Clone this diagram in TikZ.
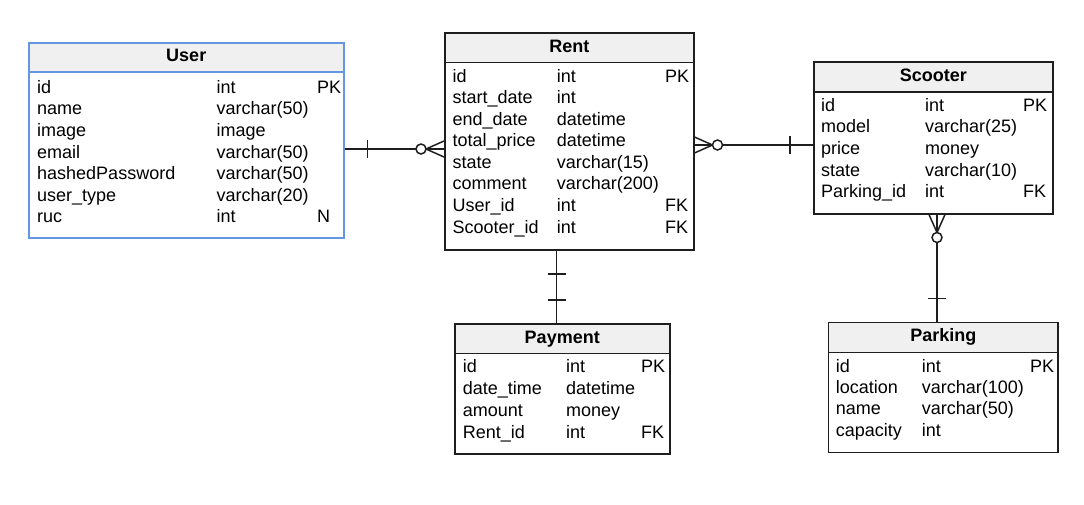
\documentclass[tikz,border=0pt]{standalone}
\usepackage{fontspec}
\setmainfont{Liberation Sans}

\definecolor{hdrgray}{RGB}{240,240,240}
\definecolor{userblue}{RGB}{100,150,225}
\definecolor{linegray}{RGB}{30,30,30}

\tikzset{
  tbl/.style={draw=linegray, line width=1.5pt, rectangle, inner sep=0pt, anchor=north west},
  hdr/.style={tbl, fill=hdrgray, font=\bfseries\fontsize{18}{20}\selectfont,
    text height=13, text depth=4},
  fld/.style={inner sep=0pt, anchor=base west, font=\fontsize{18}{20}\selectfont},
  rel/.style={draw=linegray, line width=1.5pt},
  pics/one/.style={code={\draw[rel] (23,-9) -- (23,9);}},
  pics/zeromany/.style={code={
    \draw[rel] (0,-8) -- (18,0) -- (0,8) (0,0) -- (18,0);
    \draw[rel, fill=white] (23,0) circle (5);}}
}

\begin{document}
\begin{tikzpicture}[x=1pt, y=-1pt]
        \useasboundingbox (0,0) rectangle (1084,504);
        % User
        \node[tbl, draw=userblue, minimum width=315, minimum height=195] (user) at (28,42) {};
        \node[hdr, draw=userblue, minimum width=315, minimum height=29] (userT) at (user.north west) {User};
        \foreach \n/\t/\k [count=\i from 0] in {id/int/PK, name/varchar(50)/, image/image/,
            email/varchar(50)/, hashedPassword/varchar(50)/, user\_type/varchar(20)/, ruc/int/N} {
          \node[fld] (user-n\i) at (37,{93.3+21.57*\i}) {\n};
          \node[fld] (user-t\i) at (216.5,{93.3+21.57*\i}) {\t};
          \node[fld] (user-k\i) at (317,{93.3+21.57*\i}) {\k};
        }
        % Rent
        \node[tbl, minimum width=249, minimum height=217] (rent) at (444,32.3) {};
        \node[hdr, minimum width=249, minimum height=29.4] (rentT) at (rent.north west) {Rent};
        \foreach \n/\t/\k [count=\i from 0] in {id/int/PK, start\_date/int/, end\_date/datetime/,
            total\_price/datetime/, state/varchar(15)/, comment/varchar(200)/,
            User\_id/int/FK, Scooter\_id/int/FK} {
          \node[fld] (rent-n\i) at (452.3,{82.3+21.53*\i}) {\n};
          \node[fld] (rent-t\i) at (556.7,{82.3+21.53*\i}) {\t};
          \node[fld] (rent-k\i) at (665,{82.3+21.53*\i}) {\k};
        }
        % Scooter
        \node[tbl, minimum width=239, minimum height=152] (scooter) at (813,61) {};
        \node[hdr, minimum width=239, minimum height=30] (scooterT) at (scooter.north west) {Scooter};
        \foreach \n/\t/\k [count=\i from 0] in {id/int/PK, model/varchar(25)/, price/money/,
            state/varchar(10)/, Parking\_id/int/FK} {
          \node[fld] (scooter-n\i) at (821,{111+21.7*\i}) {\n};
          \node[fld] (scooter-t\i) at (925,{111+21.7*\i}) {\t};
          \node[fld] (scooter-k\i) at (1023,{111+21.7*\i}) {\k};
        }
        % Payment
        \node[tbl, minimum width=215, minimum height=130] (payment) at (454,323) {};
        \node[hdr, minimum width=215, minimum height=29.5] (paymentT) at (payment.north west) {Payment};
        \foreach \n/\t/\k [count=\i from 0] in {id/int/PK, date\_time/datetime/,
            amount/money/, Rent\_id/int/FK} {
          \node[fld] (payment-n\i) at (462.7,{372.7+21.9*\i}) {\n};
          \node[fld] (payment-t\i) at (566,{372.7+21.9*\i}) {\t};
          \node[fld] (payment-k\i) at (641,{372.7+21.9*\i}) {\k};
        }
        % Parking
        \node[tbl, minimum width=229.5, minimum height=130] (parking) at (827.8,321.7) {};
        \node[hdr, minimum width=229.5, minimum height=30] (parkingT) at (parking.north west) {Parking};
        \foreach \n/\t/\k [count=\i from 0] in {id/int/PK, location/varchar(100)/,
            name/varchar(50)/, capacity/int/} {
          \node[fld] (parking-n\i) at (835.7,{372.3+21.3*\i}) {\n};
          \node[fld] (parking-t\i) at (921.7,{372.3+21.3*\i}) {\t};
          \node[fld] (parking-k\i) at (1030,{372.3+21.3*\i}) {\k};
        }
        % relations
        \coordinate (ur) at (0,149);
        \coordinate (rs) at (0,145);
        \coordinate (rp) at (556.5,0);
        \coordinate (sp) at (937,0);
        \draw[rel] (user.east |- ur) -- (rent.west |- ur);
        \draw[rel] (rent.east |- rs) -- (scooter.west |- rs);
        \draw[rel] (rent.south -| rp) -- (payment.north -| rp);
        \draw[rel] (scooter.south -| sp) -- (parking.north -| sp);
        \pic at (user.east |- ur) {one};
        \pic[rotate=180] at (rent.west |- ur) {zeromany};
        \pic at (rent.east |- rs) {zeromany};
        \pic[rotate=180] at (scooter.west |- rs) {one};
        \pic[rotate=-90] at (rent.south -| rp) {one};
        \pic[rotate=90] at (payment.north -| rp) {one};
        \pic[rotate=-90] at (scooter.south -| sp) {zeromany};
        \pic[rotate=90] at (parking.north -| sp) {one};
\end{tikzpicture}
\end{document}
